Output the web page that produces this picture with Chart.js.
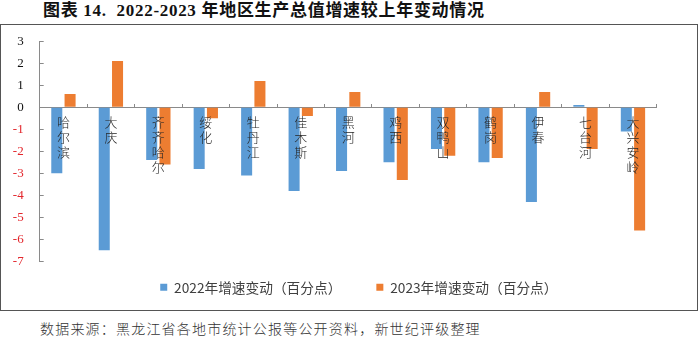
<!DOCTYPE html>
<html>
<head>
<meta charset="utf-8">
<script src="https://cdn.jsdelivr.net/npm/chart.js@4/dist/chart.umd.min.js"></script>
<style>
  html, body { margin: 0; padding: 0; background: #fff; }
  body { width: 700px; height: 337px; position: relative; overflow: hidden; }
  #title {
    position: absolute; left: 43px; top: -4px;
    font: bold 17px "Liberation Serif", "Noto Sans CJK SC", serif;
    letter-spacing: 0.7px; color: #111; white-space: nowrap;
  }
  #box {
    position: absolute; left: 0; top: 24px; width: 698px; height: 287px;
    box-sizing: border-box; border: 1.5px solid #555;
  }
  #wrap { position: absolute; left: 0; top: 0; width: 695px; height: 284px; }
  #source {
    position: absolute; left: 40px; top: 318px;
    font: 300 14px "Noto Sans CJK SC", sans-serif;
    letter-spacing: 1.2px; color: #333; white-space: nowrap;
  }
</style>
</head>
<body>
<div id="title">图表 14.&nbsp; 2022-2023 年地区生产总值增速较上年变动情况</div>
<div id="box"><div id="wrap"><canvas id="c"></canvas></div></div>
<div id="source">数据来源：黑龙江省各地市统计公报等公开资料，新世纪评级整理</div>
<script>
// Regions of Heilongjiang
const categories = ['哈尔滨', '大庆', '齐齐哈尔', '绥化', '牡丹江', '佳木斯', '黑河',
                    '鸡西', '双鸭山', '鹤岗', '伊春', '七台河', '大兴安岭'];
// Change in GDP growth vs. previous year (percentage points)
const change2022 = [-3.0, -6.5, -2.4, -2.8, -3.1, -3.8, -2.9, -2.5, -1.9, -2.5, -4.3, 0.1, -1.1];
const change2023 = [0.6, 2.1, -2.6, -0.5, 1.2, -0.4, 0.7, -3.3, -2.2, -2.3, 0.7, -1.9, -5.6];
const seriesNames = ['2022年增速变动（百分点）', '2023年增速变动（百分点）'];
const yTicks = { min: -7, max: 3, step: 1 };

const axisColor = '#8a8a8a';

// Places the legend row a little higher and to the right of where the layout puts it
const legendPlacement = {
  id: 'legendPlacement',
  afterLayout(chart) {
    const lg = chart.legend;
    if (!lg) return;
    lg.left += 30; lg.right += 30;
    lg.top = 220.5; lg.height = 62; lg.bottom = lg.top + lg.height;
  }
};

new Chart(document.getElementById('c'), {
  type: 'bar',
  data: {
    // vertical labels: one character per line
    labels: categories.map(s => s.split('')),
    datasets: [
      { label: seriesNames[0], data: change2022, backgroundColor: '#5b9bd5' },
      { label: seriesNames[1], data: change2023, backgroundColor: '#ed7d31' }
    ]
  },
  plugins: [legendPlacement],
  options: {
    responsive: true,
    maintainAspectRatio: false,
    animation: false,
    categoryPercentage: 0.56,
    barPercentage: 0.83,
    layout: { padding: { top: 16.3, right: 39.3, bottom: 7.7, left: 0 } },
    plugins: {
      tooltip: { enabled: false },
      legend: {
        position: 'bottom',
        maxHeight: 40,
        labels: {
          boxWidth: 7, boxHeight: 7, padding: 35,
          color: '#404040',
          font: { family: '"Noto Sans CJK SC", sans-serif', size: 13.7 }
        }
      }
    },
    scales: {
      x: {
        position: { y: 0 },
        offset: true,
        border: { color: axisColor, width: 1 },
        grid: { display: true, offset: true, drawOnChartArea: false, drawTicks: true, tickLength: -4, color: axisColor },
        ticks: {
          z: 1,
          autoSkip: false, maxRotation: 0, minRotation: 0, padding: 11,
          color: '#262626',
          font: { family: '"Noto Sans CJK SC", sans-serif', size: 13, weight: '300', lineHeight: 1.15 }
        }
      },
      y: {
        min: yTicks.min, max: yTicks.max,
        afterFit: s => { s.width = 38.7; s.paddingTop = 0; s.paddingBottom = 0; },
        border: { color: axisColor, width: 1 },
        grid: { display: true, drawOnChartArea: false, drawTicks: true, tickLength: -4, color: axisColor },
        ticks: {
          stepSize: yTicks.step, padding: 20,
          color: c => (c.tick && c.tick.value < 0 ? '#e3262c' : '#111'),
          font: { family: '"Liberation Serif", serif', size: 13 }
        }
      }
    }
  }
});
</script>
</body>
</html>
